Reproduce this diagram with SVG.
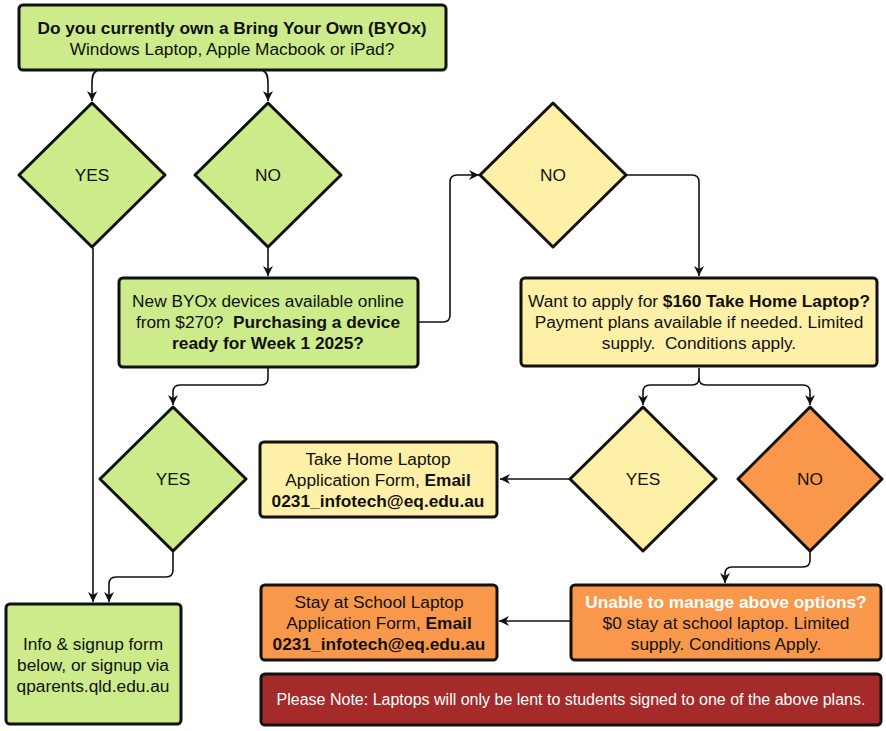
<svg xmlns="http://www.w3.org/2000/svg" width="886" height="731" viewBox="0 0 886 731">
<style>
text{font-family:"Liberation Sans",Arial,sans-serif;font-size:17.3px;fill:#111;text-anchor:middle;white-space:pre}
.b{font-weight:bold}
.w{fill:#fff}
.n{stroke:#111;stroke-width:3;stroke-linejoin:round}
.g{fill:#cdeb8b}
.y{fill:#fff0a8}
.o{fill:#f9984a}
.r{fill:#a52a2a}
.c{fill:none;stroke:#111;stroke-width:1.6;marker-end:url(#ah)}
</style>
<defs>
<marker id="ah" markerUnits="userSpaceOnUse" markerWidth="12" markerHeight="12" viewBox="0 0 12 12" refX="11" refY="6" orient="auto">
<path d="M1,1 L11,6 L1,11 L4,6 z" fill="#111"/>
</marker>
</defs>
<g id="connectors">
<path class="c" d="M97,71 C93,72 92,76 92,84 V101"/>
<path class="c" d="M263,71 C267,72 268,76 268,84 V101"/>
<path class="c" d="M268,248 V276"/>
<path class="c" d="M93,248 V602"/>
<path class="c" d="M268,368 V378 Q268,385 261,385 H180 Q173,385 173,392 V405"/>
<path class="c" d="M173,552 V570 Q173,577 166,577 H116 Q109,577 109,584 V602"/>
<path class="c" d="M419,322 H443 Q450,322 450,315 V182 Q450,175 457,175 H479"/>
<path class="c" d="M627,175 H692 Q699,175 699,182 V276"/>
<path class="c" d="M699,368 V378 Q699,385 692,385 H650 Q643,385 643,392 V405"/>
<path class="c" d="M699,378 Q699,385 706,385 H803 Q810,385 810,392 V405"/>
<path class="c" d="M571,479 H500"/>
<path class="c" d="M810,552 V560 Q810,567 803,567 H732 Q725,567 725,574 V583"/>
<path class="c" d="M571,621 H499"/>
</g>
<g id="n-start">
<rect class="n g" x="19" y="5" width="427" height="65" rx="4"/>
<text class="b" x="232" y="34">Do you currently own a Bring Your Own (BYOx)</text>
<text x="232" y="55">Windows Laptop, Apple Macbook or iPad?</text>
</g>
<g id="n-yes1">
<polygon class="n g" points="92,103 165,175 92,247 19,175"/>
<text x="92" y="181">YES</text>
</g>
<g id="n-no1">
<polygon class="n g" points="268,103 341,175 268,247 195,175"/>
<text x="268" y="181">NO</text>
</g>
<g id="n-newbyox">
<rect class="n g" x="119" y="278" width="299" height="89" rx="4"/>
<text x="268" y="307">New BYOx devices available online</text>
<text x="268" y="328">from $270?  <tspan class="b">Purchasing a device</tspan></text>
<text class="b" x="268" y="349">ready for Week 1 2025?</text>
</g>
<g id="n-no2">
<polygon class="n y" points="553,103 626,175 553,247 480,175"/>
<text x="553" y="181">NO</text>
</g>
<g id="n-apply">
<rect class="n y" x="521" y="278" width="356" height="88" rx="4"/>
<text x="699" y="307">Want to apply for <tspan class="b">$160 Take Home Laptop?</tspan></text>
<text x="699" y="328">Payment plans available if needed. Limited</text>
<text x="699" y="349">supply.  Conditions apply.</text>
</g>
<g id="n-yes2">
<polygon class="n g" points="173,407 246,479 173,551 100,479"/>
<text x="173" y="485">YES</text>
</g>
<g id="n-yes3">
<polygon class="n y" points="643,407 716,479 643,551 570,479"/>
<text x="643" y="485">YES</text>
</g>
<g id="n-no3">
<polygon class="n o" points="810,407 882,479 810,551 738,479"/>
<text x="810" y="485">NO</text>
</g>
<g id="n-takehome">
<rect class="n y" x="260" y="442" width="237" height="75" rx="4"/>
<text x="378" y="465">Take Home Laptop</text>
<text x="378" y="486">Application Form, <tspan class="b">Email</tspan></text>
<text class="b" x="378" y="507">0231_infotech@eq.edu.au</text>
</g>
<g id="n-info">
<rect class="n g" x="6" y="604" width="175" height="120" rx="4"/>
<text x="93" y="650">Info &amp; signup form</text>
<text x="93" y="671">below, or signup via</text>
<text x="93" y="692">qparents.qld.edu.au</text>
</g>
<g id="n-stay">
<rect class="n o" x="261" y="585" width="236" height="75" rx="4"/>
<text x="379" y="608">Stay at School Laptop</text>
<text x="379" y="629">Application Form, <tspan class="b">Email</tspan></text>
<text class="b" x="379" y="650">0231_infotech@eq.edu.au</text>
</g>
<g id="n-unable">
<rect class="n o" x="571" y="585" width="310" height="75" rx="4"/>
<text class="b w" x="726" y="608">Unable to manage above options?</text>
<text x="726" y="629">$0 stay at school laptop. Limited</text>
<text x="726" y="650">supply. Conditions Apply.</text>
</g>
<g id="n-note">
<rect class="n r" x="261" y="674" width="620" height="51" rx="4"/>
<text class="w" x="571" y="705" style="font-size:16px">Please Note: Laptops will only be lent to students signed to one of the above plans.</text>
</g>
</svg>
